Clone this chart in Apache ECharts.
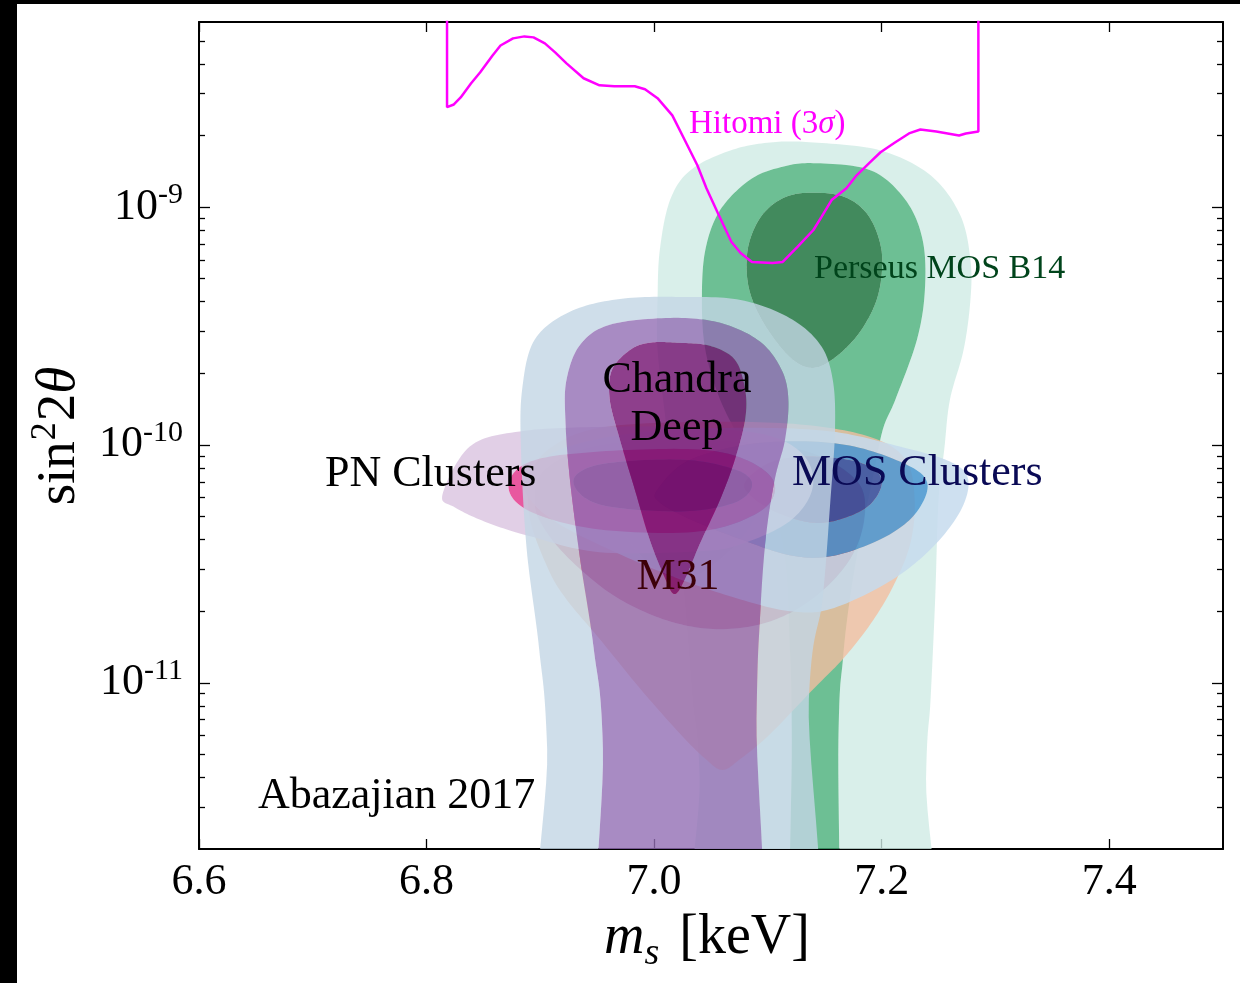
<!DOCTYPE html>
<html>
<head>
<meta charset="utf-8">
<script src="https://cdn.jsdelivr.net/npm/echarts@6/dist/echarts.min.js"></script>
<style>
  html, body { margin: 0; padding: 0; background: #fff; }
  #chart { width: 1240px; height: 983px; }
</style>
</head>
<body>
<div id="chart"></div>
<script>
// Sterile-neutrino X-ray line detections: mass m_s [keV] vs mixing sin^2(2θ).
// Each region is a set of nested confidence contours: [outer, middle, inner].
// Points on truncated edges sit below the axis floor and are clipped by the grid.

const perseusOuter = [
  [7.140,1.87e-9],[7.199,1.73e-9],[7.243,1.36e-9],[7.269,9.26e-10],[7.278,5.99e-10],[7.278,4.07e-10],
  [7.272,2.51e-10],[7.260,1.55e-10],[7.255,9.56e-11],[7.250,5.90e-11],[7.247,2.24e-11],[7.243,8.54e-12],
  [7.239,3.94e-12],[7.237,3e-13],[7.043,3e-13],[7.040,3.94e-12],[7.034,8.54e-12],[7.027,2.24e-11],
  [7.018,5.90e-11],[7.010,1.28e-10],[7.003,2.51e-10],[7.003,4.07e-10],[7.005,6.60e-10],[7.014,1.07e-9],
  [7.032,1.43e-9],[7.067,1.73e-9],[7.102,1.87e-9]
];
const perseusMid = [
  [7.140,1.53e-9],[7.190,1.43e-9],[7.221,1.07e-9],[7.236,7.27e-10],[7.238,4.49e-10],[7.231,2.77e-10],
  [7.212,1.55e-10],[7.201,1.16e-10],[7.192,7.16e-11],[7.181,4.01e-11],[7.172,2.24e-11],[7.166,1.26e-11],
  [7.162,5.80e-12],[7.160,3e-13],[7.121,3e-13],[7.121,5.80e-12],[7.119,1.53e-11],[7.115,3.30e-11],
  [7.102,5.90e-11],[7.080,9.56e-11],[7.058,1.55e-10],[7.045,2.51e-10],[7.042,4.07e-10],[7.045,6.60e-10],
  [7.058,9.71e-10],[7.084,1.30e-9],[7.111,1.47e-9]
];
const perseusInner = [
  [7.140,1.15e-9],[7.168,1.10e-9],[7.188,9.26e-10],[7.199,6.93e-10],[7.200,5.19e-10],[7.194,3.88e-10],
  [7.179,2.90e-10],[7.159,2.33e-10],[7.141,2.11e-10],[7.124,2.24e-10],[7.106,2.77e-10],[7.090,3.70e-10],
  [7.082,4.94e-10],[7.083,6.93e-10],[7.095,9.26e-10],[7.115,1.10e-9]
];

const m31Outer = [
  [6.891,7.16e-11],[6.907,9.56e-11],[6.952,1.18e-10],[7.040,1.25e-10],[7.128,1.22e-10],[7.190,1.08e-10],
  [7.221,8.68e-11],[7.229,5.90e-11],[7.225,3.82e-11],[7.210,2.54e-11],[7.190,1.76e-11],[7.166,1.26e-11],
  [7.140,9.41e-12],[7.102,6.09e-12],[7.076,4.79e-12],[7.060,4.30e-12],[7.045,4.79e-12],[7.023,6.09e-12],
  [6.988,9.41e-12],[6.952,1.53e-11],[6.923,2.24e-11],[6.907,3.00e-11],[6.891,4.86e-11]
];
const m31Mid = [
  [6.904,7.88e-11],[6.952,1.00e-10],[7.040,1.05e-10],[7.128,9.56e-11],[7.177,7.16e-11],[7.185,5.00e-11],
  [7.172,3.30e-11],[7.141,2.29e-11],[7.102,1.81e-11],[7.058,1.68e-11],[7.014,1.81e-11],[6.970,2.24e-11],
  [6.935,3.00e-11],[6.908,4.13e-11],[6.895,5.62e-11]
];
const m31Inner = [
  [6.961,7.88e-11],[7.005,9.11e-11],[7.058,8.68e-11],[7.093,7.16e-11],[7.088,4.86e-11],[7.063,3.47e-11],
  [7.032,2.78e-11],[7.001,3.00e-11],[6.974,4.21e-11],[6.957,5.90e-11]
];

const mosOuter = [
  [6.887,7.30e-11],[6.917,9.56e-11],[6.988,1.13e-10],[7.076,1.18e-10],[7.155,1.14e-10],[7.216,9.84e-11],
  [7.260,8.51e-11],[7.276,7.16e-11],[7.269,5.25e-11],[7.243,3.64e-11],[7.206,2.65e-11],[7.155,2.04e-11],
  [7.119,2.00e-11],[7.076,2.24e-11],[7.023,2.72e-11],[6.970,3.47e-11],[6.917,4.63e-11],[6.891,5.90e-11]
];
const mosMid = [
  [7.003,6.50e-11],[7.032,8.68e-11],[7.093,1.02e-10],[7.163,1.01e-10],[7.216,8.51e-11],[7.240,6.95e-11],
  [7.229,5.10e-11],[7.199,4.01e-11],[7.155,3.40e-11],[7.119,3.44e-11],[7.076,4.01e-11],[7.032,4.86e-11],
  [7.005,5.73e-11]
];
const mosInner = [
  [7.080,6.95e-11],[7.102,8.43e-11],[7.137,8.94e-11],[7.181,8.43e-11],[7.200,7.16e-11],[7.190,5.62e-11],
  [7.163,4.86e-11],[7.137,4.72e-11],[7.106,5.25e-11],[7.086,6.07e-11]
];

const pnOuter = [
  [6.814,6.19e-11],[6.838,9.84e-11],[6.882,1.14e-10],[6.952,1.19e-10],[7.040,1.18e-10],[7.102,1.09e-10],
  [7.133,8.85e-11],[7.139,6.50e-11],[7.119,4.77e-11],[7.076,3.82e-11],[7.040,3.57e-11],[6.952,3.54e-11],
  [6.891,4.13e-11],[6.853,4.72e-11],[6.825,5.46e-11]
];
const pnMid = [
  [6.872,6.69e-11],[6.891,8.51e-11],[6.952,9.38e-11],[7.040,9.56e-11],[7.084,8.51e-11],[7.106,6.82e-11],
  [7.093,5.25e-11],[7.040,4.33e-11],[6.952,4.41e-11],[6.891,5.25e-11]
];
const pnInner = [
  [6.929,7.02e-11],[6.952,8.27e-11],[7.023,8.68e-11],[7.071,7.88e-11],[7.086,6.82e-11],[7.071,5.73e-11],
  [7.023,5.25e-11],[6.952,5.62e-11]
];

const chandraOuter = [
  [7.023,4.19e-10],[7.076,4.07e-10],[7.119,3.42e-10],[7.146,2.64e-10],[7.157,1.88e-10],[7.159,1.16e-10],
  [7.155,5.90e-11],[7.148,2.24e-11],[7.136,8.54e-12],[7.130,3e-13],[6.912,3e-13],[6.906,5.27e-12],
  [6.899,1.38e-11],[6.888,3.64e-11],[6.883,9.56e-11],[6.884,1.71e-10],[6.895,2.77e-10],[6.926,3.63e-10],
  [6.970,4.11e-10]
];
const chandraMid = [
  [7.014,3.42e-10],[7.058,3.26e-10],[7.093,2.72e-10],[7.112,2.07e-10],[7.118,1.55e-10],[7.115,1.05e-10],
  [7.106,7.16e-11],[7.098,4.01e-11],[7.093,1.85e-11],[7.090,7.04e-12],[7.087,3e-13],[6.957,3e-13],
  [6.955,5.27e-12],[6.947,1.38e-11],[6.935,3.30e-11],[6.926,7.16e-11],[6.922,1.28e-10],[6.923,1.88e-10],
  [6.935,2.64e-10],[6.961,3.20e-10]
];
const chandraInner = [
  [7.020,2.69e-10],[7.049,2.61e-10],[7.071,2.28e-10],[7.080,1.71e-10],[7.080,1.28e-10],[7.071,8.68e-11],
  [7.058,5.90e-11],[7.040,3.82e-11],[7.027,2.72e-11],[7.018,2.36e-11],[7.010,2.72e-11],[6.996,4.01e-11],
  [6.983,6.50e-11],[6.970,1.05e-10],[6.961,1.55e-10],[6.963,2.07e-10],[6.979,2.51e-10],[6.996,2.69e-10]
];

// Hitomi 3σ upper limit (open at the top of the frame)
const hitomi = [
  [6.818,1e-8],[6.818,2.63e-9],[6.824,2.70e-9],[6.830,2.89e-9],[6.839,3.31e-9],[6.847,3.68e-9],
  [6.858,4.34e-9],[6.865,4.78e-9],[6.876,5.12e-9],[6.886,5.22e-9],[6.894,5.17e-9],[6.904,4.88e-9],
  [6.913,4.47e-9],[6.923,4.02e-9],[6.938,3.48e-9],[6.952,3.25e-9],[6.965,3.22e-9],[6.983,3.22e-9],
  [6.992,3.13e-9],[7.003,2.87e-9],[7.016,2.43e-9],[7.027,1.91e-9],[7.038,1.50e-9],[7.046,1.20e-9],
  [7.056,9.44e-10],[7.068,7.13e-10],[7.076,6.41e-10],[7.086,5.88e-10],[7.104,5.82e-10],[7.113,5.88e-10],
  [7.126,6.80e-10],[7.140,8.01e-10],[7.147,9.08e-10],[7.156,1.07e-9],[7.169,1.20e-9],[7.178,1.36e-9],
  [7.189,1.53e-9],[7.199,1.70e-9],[7.211,1.86e-9],[7.224,2.04e-9],[7.234,2.12e-9],[7.248,2.08e-9],
  [7.268,2.00e-9],[7.274,2.04e-9],[7.285,2.08e-9],[7.285,1e-8]
];

const xTickValues = [6.6, 6.8, 7.0, 7.2, 7.4];
const yMajorTicks = [1e-11, 1e-10, 1e-9];
const yMinorTicks = [
  3e-12,4e-12,5e-12,6e-12,7e-12,8e-12,9e-12,
  2e-11,3e-11,4e-11,5e-11,6e-11,7e-11,8e-11,9e-11,
  2e-10,3e-10,4e-10,5e-10,6e-10,7e-10,8e-10,9e-10,
  2e-9,3e-9,4e-9,5e-9
];

// painting order: Perseus, M31, MOS, PN, then Chandra on top
const regions = [
  { levels: [perseusOuter, perseusMid, perseusInner],
    fills: ['rgba(208,235,229,0.8)', 'rgba(72,175,121,0.8)', 'rgba(19,109,53,0.8)'] },
  { levels: [m31Outer, m31Mid, m31Inner],
    fills: ['rgba(243,190,160,0.8)', 'rgba(205,61,74,0.8)', 'rgba(150,0,40,0.8)'] },
  { levels: [mosOuter, mosMid, mosInner],
    fills: ['rgba(197,219,237,0.85)', 'rgba(73,149,209,0.85)', 'rgba(49,79,162,0.85)'] },
  { levels: [pnOuter, pnMid, pnInner],
    fills: ['rgba(217,195,224,0.8)', 'rgba(226,46,135,0.8)', 'rgba(140,10,90,0.8)'] },
  { levels: [chandraOuter, chandraMid, chandraInner],
    fills: ['rgba(195,214,229,0.8)', 'rgba(146,110,180,0.8)', 'rgba(114,15,111,0.8)'] }
];

const FONT = 'Liberation Serif';

// closed Catmull-Rom curve through pixel points
function smoothRing(pts, steps) {
  const n = pts.length, out = [];
  for (let i = 0; i < n; i++) {
    const p0 = pts[(i - 1 + n) % n], p1 = pts[i], p2 = pts[(i + 1) % n], p3 = pts[(i + 2) % n];
    for (let k = 0; k < steps; k++) {
      const t = k / steps, t2 = t * t, t3 = t2 * t;
      const c = (a, b, d, e) => 0.5 * (2 * b + (-a + d) * t + (2 * a - 5 * b + 4 * d - e) * t2 + (-a + 3 * b - 3 * d + e) * t3);
      out.push([c(p0[0], p1[0], p2[0], p3[0]), c(p0[1], p1[1], p2[1], p3[1])]);
    }
  }
  return out;
}
function signedArea(pts) {
  let s = 0;
  for (let i = 0; i < pts.length; i++) {
    const a = pts[i], b = pts[(i + 1) % pts.length];
    s += a[0] * b[1] - b[0] * a[1];
  }
  return s / 2;
}

// one confidence band = outer contour with the next contour cut out
function bandRenderer(outerRing, innerRing, fill) {
  return function (params, api) {
    if (params.dataIndex !== 0) return null;
    const outer = smoothRing(outerRing.map(d => api.coord(d)), 14);
    let pts = outer;
    if (innerRing) {
      let inner = smoothRing(innerRing.map(d => api.coord(d)), 14);
      if (Math.sign(signedArea(inner)) === Math.sign(signedArea(outer))) inner = inner.reverse();
      let best = 0, bd = Infinity;
      inner.forEach((q, i) => {
        const d = (q[0] - outer[0][0]) ** 2 + (q[1] - outer[0][1]) ** 2;
        if (d < bd) { bd = d; best = i; }
      });
      const loop = inner.slice(best).concat(inner.slice(0, best + 1));
      pts = outer.concat([outer[0]], loop);
    }
    const cs = params.coordSys;
    return {
      type: 'polygon',
      shape: { points: pts },
      style: { fill: fill },
      silent: true,
      clipPath: { type: 'rect', shape: { x: cs.x, y: cs.y, width: cs.width, height: cs.height } }
    };
  };
}

const series = [];
regions.forEach(r => {
  r.levels.forEach((ring, i) => {
    series.push({
      type: 'custom',
      coordinateSystem: 'cartesian2d',
      xAxisIndex: 0, yAxisIndex: 0,
      clip: true,
      silent: true,
      animation: false,
      data: ring,
      renderItem: bandRenderer(ring, r.levels[i + 1] || null, r.fills[i])
    });
  });
});
series.push({
  type: 'line',
  xAxisIndex: 0, yAxisIndex: 0,
  data: hitomi,
  showSymbol: false,
  clip: true,
  silent: true,
  animation: false,
  lineStyle: { color: '#ff00ff', width: 2.5 },
  z: 5
});

const axisLine = { show: true, lineStyle: { color: '#000', width: 2 } };
const majorTick = (len, vals) => ({ show: true, inside: true, length: len, customValues: vals, lineStyle: { color: '#000', width: 1.3 } });

const yLogBase = { type: 'log', logBase: 10, min: 2e-12, max: 6e-9, splitLine: { show: false } };

const option = {
  animation: false,
  backgroundColor: '#fff',
  grid: { left: 199, right: 17, top: 22, bottom: 134, containLabel: false },
  xAxis: [
    { type: 'value', min: 6.6, max: 7.5, interval: 0.2, position: 'bottom',
      axisLine, axisTick: majorTick(10, xTickValues), splitLine: { show: false },
      axisLabel: { customValues: xTickValues, margin: 11, color: '#000', fontFamily: FONT, fontSize: 44,
                   formatter: v => v.toFixed(1) } },
    { type: 'value', min: 6.6, max: 7.5, interval: 0.2, position: 'top',
      axisLine, axisTick: majorTick(10, xTickValues), splitLine: { show: false }, axisLabel: { show: false } }
  ],
  yAxis: [
    Object.assign({}, yLogBase, { position: 'left', axisLine, axisTick: majorTick(11, yMajorTicks),
      axisLabel: { customValues: yMajorTicks, margin: 16, color: '#000',
        formatter: v => '{b|10}{s|-' + Math.abs(Math.round(Math.log10(v))) + '}',
        rich: { b: { fontFamily: FONT, fontSize: 44, lineHeight: 54, color: '#000' },
                s: { fontFamily: FONT, fontSize: 30, lineHeight: 30, verticalAlign: 'top', color: '#000' } } } }),
    Object.assign({}, yLogBase, { position: 'left', axisLine: { show: false },
      axisTick: majorTick(6, yMinorTicks), axisLabel: { show: false } }),
    Object.assign({}, yLogBase, { position: 'right', axisLine, axisTick: majorTick(11, yMajorTicks), axisLabel: { show: false } }),
    Object.assign({}, yLogBase, { position: 'right', axisLine: { show: false },
      axisTick: majorTick(6, yMinorTicks), axisLabel: { show: false } })
  ],
  series: series,
  graphic: [
    { type: 'rect', shape: { x: 0, y: 0, width: 17, height: 983 }, style: { fill: '#000' }, z: 100 },
    { type: 'rect', shape: { x: 0, y: 0, width: 1240, height: 4 }, style: { fill: '#000' }, z: 100 },
    // axis titles
    { type: 'text', x: 707, y: 938, z: 100,
      style: { text: '{m|m}{s|s}{k|[keV]}', align: 'center', verticalAlign: 'middle',
               textAlign: 'center', textVerticalAlign: 'middle', fill: '#000',
               rich: { m: { fontFamily: FONT, fontStyle: 'italic', fontSize: 56, lineHeight: 70 },
                       s: { fontFamily: FONT, fontStyle: 'italic', fontSize: 38, lineHeight: 38, verticalAlign: 'bottom', padding: [0, 20, 0, 0] },
                       k: { fontFamily: FONT, fontSize: 56, lineHeight: 70 } } } },
    { type: 'text', x: 60, y: 436, rotation: Math.PI / 2, z: 100,
      style: { text: '{a|sin}{b|2}{a|2}{c|θ}', align: 'center', verticalAlign: 'middle',
               textAlign: 'center', textVerticalAlign: 'middle', fill: '#000',
               rich: { a: { fontFamily: FONT, fontSize: 55, lineHeight: 64 },
                       b: { fontFamily: FONT, fontSize: 36, lineHeight: 36, verticalAlign: 'top', padding: [0, 1, 0, 1] },
                       c: { fontFamily: FONT, fontStyle: 'italic', fontSize: 55, lineHeight: 64 } } } },
    // region labels
    { type: 'text', x: 325, y: 474, z: 100, style: { text: 'PN Clusters', font: '44px "Liberation Serif"', fill: '#000', align: 'left', verticalAlign: 'middle', textAlign: 'left', textVerticalAlign: 'middle' } },
    { type: 'text', x: 792, y: 473, z: 100, style: { text: 'MOS Clusters', font: '44px "Liberation Serif"', fill: '#0a0a55', align: 'left', verticalAlign: 'middle', textAlign: 'left', textVerticalAlign: 'middle' } },
    { type: 'text', x: 677, y: 380, z: 100, style: { text: 'Chandra', font: '44px "Liberation Serif"', fill: '#000', align: 'center', verticalAlign: 'middle', textAlign: 'center', textVerticalAlign: 'middle' } },
    { type: 'text', x: 677, y: 428, z: 100, style: { text: 'Deep', font: '44px "Liberation Serif"', fill: '#000', align: 'center', verticalAlign: 'middle', textAlign: 'center', textVerticalAlign: 'middle' } },
    { type: 'text', x: 678, y: 577, z: 100, style: { text: 'M31', font: '44px "Liberation Serif"', fill: '#3d0008', align: 'center', verticalAlign: 'middle', textAlign: 'center', textVerticalAlign: 'middle' } },
    { type: 'text', x: 814, y: 269, z: 100, style: { text: 'Perseus MOS B14', font: '34px "Liberation Serif"', fill: '#00441b', align: 'left', verticalAlign: 'middle', textAlign: 'left', textVerticalAlign: 'middle' } },
    { type: 'text', x: 689, y: 124, z: 100,
      style: { text: 'Hitomi (3{i|σ})', font: '33px "Liberation Serif"', fill: '#ff00ff', align: 'left', verticalAlign: 'middle', textAlign: 'left', textVerticalAlign: 'middle',
               rich: { i: { fontFamily: FONT, fontStyle: 'italic', fontSize: 33, fill: '#ff00ff', color: '#ff00ff' } } } },
    { type: 'text', x: 258, y: 796, z: 100, style: { text: 'Abazajian 2017', font: '44px "Liberation Serif"', fill: '#000', align: 'left', verticalAlign: 'middle', textAlign: 'left', textVerticalAlign: 'middle' } }
  ]
};

const chart = echarts.init(document.getElementById('chart'), null, { renderer: 'canvas' });
chart.setOption(option);
</script>
</body>
</html>
